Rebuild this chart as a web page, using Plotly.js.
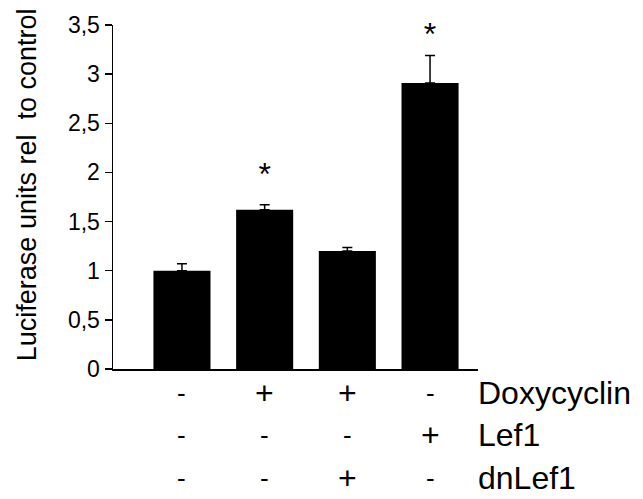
<!DOCTYPE html>
<html>
<head>
<meta charset="utf-8">
<script src="https://cdn.plot.ly/plotly-3.0.1.min.js"></script>
<style>html,body{margin:0;padding:0;background:#fff;}#chart{width:643px;height:499px;}</style>
</head>
<body>
<div id="chart"></div>
<script>
var positions = [0, 1, 2, 3];
var values = [1.0, 1.62, 1.2, 2.91];
var errors = [0.07, 0.05, 0.035, 0.28];
var starY = [null, 1.95, null, 3.38];
var starText = ['', '*', '', '*'];
var rowNames = ['Doxycyclin', 'Lef1', 'dnLef1'];
var doxy = ['-', '+', '+', '-'];
var lef1 = ['-', '-', '-', '+'];
var dnlef1 = ['-', '-', '+', '-'];
var yTicks = [0, 0.5, 1, 1.5, 2, 2.5, 3, 3.5];

var FONT = 'Liberation Sans, Arial, sans-serif';

var bars = {
  type: 'bar',
  x: positions,
  y: values,
  width: 0.69,
  marker: {color: '#000000', line: {width: 0}},
  error_y: {
    type: 'data', symmetric: false,
    array: errors,
    arrayminus: errors.map(function(){return 0;}),
    color: '#000000', thickness: 1.5, width: 5
  },
  hoverinfo: 'none'
};

var stars = {
  type: 'scatter', mode: 'text',
  x: positions, y: starY, text: starText,
  textfont: {family: FONT, size: 32, color: '#000'},
  textposition: 'middle center',
  cliponaxis: false,
  hoverinfo: 'none'
};

var annotations = [];
var rows = [doxy, lef1, dnlef1];
var rowY = [-0.07, -0.192, -0.317];
rows.forEach(function(row, r) {
  row.forEach(function(sym, i) {
    annotations.push({
      xref: 'x', yref: 'paper', x: positions[i], y: rowY[r],
      text: sym, showarrow: false, xanchor: 'center', yanchor: 'middle',
      font: {family: FONT, size: sym === '+' ? 32 : 26, color: '#000'}
    });
  });
  annotations.push({
    xref: 'paper', yref: 'paper', x: 0.995, y: rowY[r],
    text: rowNames[r], showarrow: false, xanchor: 'left', yanchor: 'middle',
    font: {family: FONT, size: 32, color: '#000'}
  });
});
annotations.push({
  xref: 'paper', yref: 'paper', x: -0.235, y: 0.535,
  text: 'Luciferase units rel  to control', textangle: -90,
  showarrow: false, xanchor: 'center', yanchor: 'middle',
  font: {family: FONT, size: 27, color: '#000'}
});

var layout = {
  width: 643, height: 499,
  margin: {l: 113, r: 165, t: 25, b: 130},
  paper_bgcolor: '#fff', plot_bgcolor: '#fff',
  separators: ',.',
  showlegend: false,
  font: {family: FONT, color: '#000'},
  xaxis: {
    range: [-0.834, 3.58], showgrid: false, zeroline: false,
    showline: true, linecolor: '#000', linewidth: 1.5,
    showticklabels: false, ticks: '', fixedrange: true
  },
  yaxis: {
    range: [0, 3.5], tickvals: yTicks, showgrid: false, zeroline: false,
    showline: true, linecolor: '#000', linewidth: 1.5,
    ticks: 'outside', ticklen: 7, tickwidth: 1.5, tickcolor: '#000',
    tickfont: {family: FONT, size: 23, color: '#000'},
    fixedrange: true
  },
  annotations: annotations
};

Plotly.newPlot('chart', [bars, stars], layout, {staticPlot: true, displayModeBar: false});
</script>
</body>
</html>
